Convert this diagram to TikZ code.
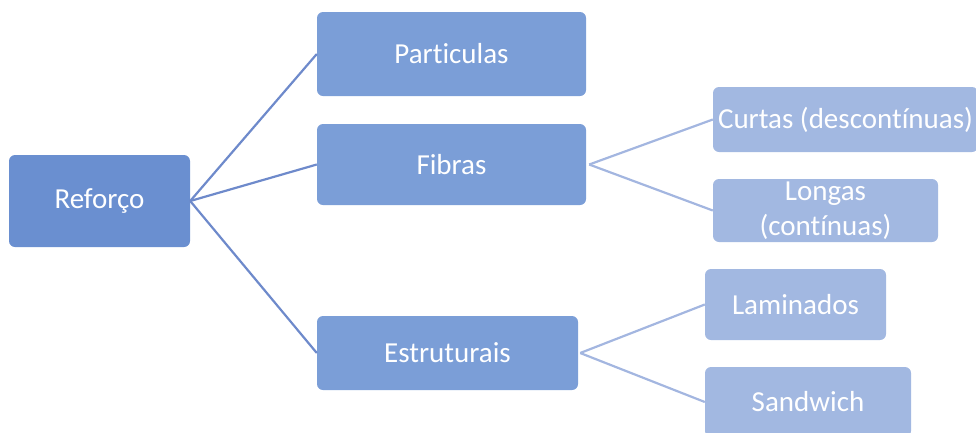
\documentclass[tikz,border=0pt]{standalone}
\usepackage{fontspec}
\setmainfont{Carlito}[RawFeature={-liga}]
\definecolor{cRoot}{HTML}{6A8FD0}
\definecolor{cOne}{HTML}{7B9ED7}
\definecolor{cTwo}{HTML}{A2B8E1}
\definecolor{lOne}{HTML}{6E8ACB}
\definecolor{lTwo}{HTML}{A3B6E0}
\begin{document}
\begin{tikzpicture}[x=1pt,y=-1pt,
  box/.style={rectangle,rounded corners=6pt,inner sep=0pt,text=white,
    font=\fontsize{29}{35}\selectfont,align=center},
  rootbox/.style={box,fill=cRoot},
  onebox/.style={box,fill=cOne},
  twobox/.style={box,fill=cTwo},
  oneline/.style={draw=lOne,line width=2.2pt},
  twoline/.style={draw=lTwo,line width=2.2pt}]
\clip (0,0) rectangle (976,432);
\useasboundingbox (0,0) rectangle (976,432);
\node[rootbox,minimum width=181pt,minimum height=92pt] (ref) at (99.5,201) {Reforço};
\node[onebox,minimum width=269pt,minimum height=84pt] (par) at (451.5,54) {Particulas};
\node[onebox,minimum width=269pt,minimum height=81pt] (fib) at (451.5,164.5) {Fibras};
\node[onebox,minimum width=261pt,minimum height=74pt] (est) at (447.5,353) {Estruturais};
\node[twobox,minimum width=265pt,minimum height=65pt] (cur) at (845.5,119.5) {Curtas (descontínuas)};
\node[twobox,minimum width=225pt,minimum height=63pt] (lon) at (825.5,210.5) {Longas\\(contínuas)};
\node[twobox,minimum width=181pt,minimum height=71pt] (lam) at (795.5,304.5) {Laminados};
\node[twobox,minimum width=206pt,minimum height=70pt] (san) at (808,402) {Sandwich};
\draw[oneline] (ref.east) -- (par.west);
\draw[oneline] (ref.east) -- (fib.west);
\draw[oneline] (ref.east) -- (est.west);
\draw[twoline] ([xshift=3pt]fib.east) -- (cur.west);
\draw[twoline] ([xshift=3pt]fib.east) -- (lon.west);
\draw[twoline] ([xshift=2pt]est.east) -- (lam.west);
\draw[twoline] ([xshift=2pt]est.east) -- (san.west);
\end{tikzpicture}
\end{document}
